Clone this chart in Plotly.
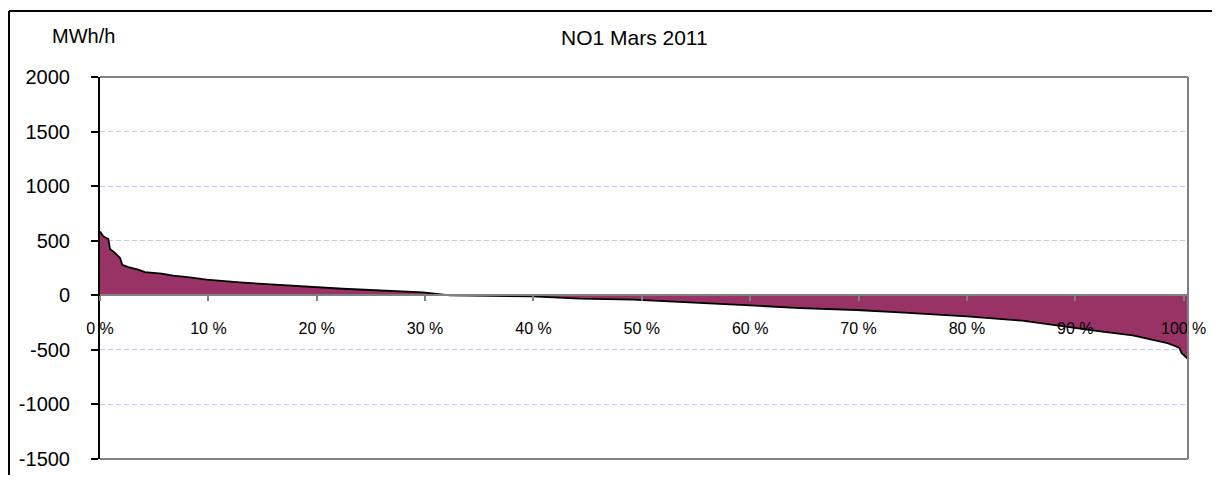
import plotly.graph_objects as go

# Duration curve NO1, March 2011 (share of hours, %) vs MWh/h
pct = [0.0, 0.30, 0.77, 0.92, 1.38, 1.85, 2.06, 2.61, 3.53, 4.15, 5.69, 6.76, 8.30, 9.84,
       12.9, 16.0, 20.0, 22.4, 29.8, 32.3, 39.9, 44.3, 49.2, 58.0, 60.0, 64.6, 69.8,
       73.8, 80.0, 85.1, 89.2, 92.3, 95.3, 98.4, 99.3, 99.6, 99.8, 100.1, 100.4]
mwh = [585, 540, 516, 424, 388, 342, 280, 259, 235, 213, 198, 180, 164, 143,
       118, 97, 76, 60, 27, 0, -10, -30, -40, -80, -92, -117, -135,
       -156, -193, -233, -291, -330, -368, -435, -468, -483, -529, -560, -584]

x_ticks = [0, 10, 20, 30, 40, 50, 60, 70, 80, 90, 100]
x_labels = [f"{v} %" for v in x_ticks]
y_ticks = [-1500, -1000, -500, 0, 500, 1000, 1500, 2000]
y_labels = [str(v) for v in y_ticks]

FONT = "Arial, Liberation Sans, sans-serif"

# page body has an 8px margin: work in window pixels, shifted by OFF
OFF = 8
W, H = 1220 - 2 * OFF, 483 - 2 * OFF
L, R, T, B = 100 - OFF, 1188 - OFF, 77 - OFF, 459 - OFF

fig = go.Figure()
fig.add_trace(go.Scatter(
    x=pct, y=mwh, mode="lines", fill="tozeroy",
    fillcolor="#993366", line=dict(color="black", width=1.8),
    hoverinfo="skip", showlegend=False,
))

fig.update_layout(
    template="none",
    width=W, height=H,
    margin=dict(l=L, r=W - R, t=T, b=H - B, pad=0),
    paper_bgcolor="white", plot_bgcolor="white",
    showlegend=False,
    font=dict(family=FONT, color="black"),
    xaxis=dict(
        range=[0, 100.4], anchor="free", position=1500 / 3500, side="bottom",
        automargin=False,
        tickvals=x_ticks, ticktext=x_labels, tickfont=dict(size=16, color="black"),
        ticks="outside", ticklen=5, tickcolor="#808080", tickwidth=2,
        ticklabelstandoff=14,
        showline=True, linecolor="#808080", linewidth=2,
        showgrid=False, zeroline=False,
    ),
    yaxis=dict(
        range=[-1500, 2000], tickvals=y_ticks, ticktext=y_labels,
        automargin=False,
        tickfont=dict(size=20, color="black"),
        ticks="outside", ticklen=7, tickcolor="black", tickwidth=2,
        ticklabelstandoff=17,
        showline=True, linecolor="black", linewidth=2,
        showgrid=True, gridcolor="#c4c4ff", griddash="5px,3px", gridwidth=1,
        zeroline=False,
    ),
)


def px_x(p):
    return (p - OFF - L) / (R - L)


def px_y(p):
    return (B - (p - OFF)) / (B - T)


# plot area border (gray)
fig.add_shape(type="line", xref="paper", yref="paper", x0=0, x1=1, y0=1, y1=1,
              line=dict(color="#808080", width=2))
fig.add_shape(type="line", xref="paper", yref="paper", x0=1, x1=1, y0=0, y1=1,
              line=dict(color="#808080", width=2))
fig.add_shape(type="line", xref="paper", yref="paper", x0=0, x1=1, y0=0, y1=0,
              line=dict(color="#808080", width=2))
# outer chart border (only top and left edges are inside the window)
fig.add_shape(type="line", xref="paper", yref="paper",
              x0=px_x(9), x1=px_x(1225), y0=px_y(11), y1=px_y(11),
              line=dict(color="black", width=2))
fig.add_shape(type="line", xref="paper", yref="paper",
              x0=px_x(9), x1=px_x(9), y0=px_y(11), y1=px_y(490),
              line=dict(color="black", width=2))

fig.add_annotation(text="NO1 Mars 2011", xref="paper", yref="paper",
                   x=px_x(634), y=px_y(38), xanchor="center", yanchor="middle",
                   showarrow=False, font=dict(size=21, family=FONT, color="black"))
fig.add_annotation(text="MWh/h", xref="paper", yref="paper",
                   x=px_x(50), y=px_y(36), xanchor="left", yanchor="middle",
                   showarrow=False, font=dict(size=20, family=FONT, color="black"))

fig.write_html("out.html")
